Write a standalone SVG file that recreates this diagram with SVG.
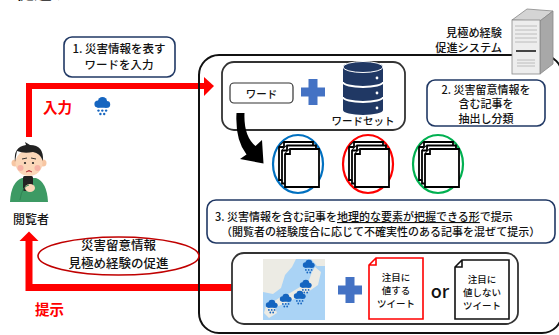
<svg xmlns="http://www.w3.org/2000/svg" width="559" height="335" viewBox="0 0 559 335">
  <style>
    text { font-family: "Noto Sans CJK JP", "Noto Sans", sans-serif; fill: #111; font-weight: 500; }
    .lbl { font-size: 11.5px; text-anchor: middle; }
    .box { fill: #fff; stroke: #203864; stroke-width: 1.6; }
    .panel { fill: #fff; stroke: #333; stroke-width: 1.8; }
    .red { fill: #ff0000; font-weight: bold; font-size: 14.5px; }
    .flow { fill: none; stroke: #ff0000; }
    .page { fill: #fff; stroke: #000; stroke-width: 1.8; stroke-linejoin: miter; }
    .tw { font-size: 9.5px; text-anchor: middle; }
  </style>
  <defs>
    <symbol id="rain" viewBox="0 0 20 20">
      <g fill="#1565c0">
        <circle cx="6" cy="8" r="3.6"/>
        <circle cx="10.5" cy="5.5" r="4.6"/>
        <circle cx="14.8" cy="8.4" r="3.4"/>
        <rect x="5" y="7" width="10.5" height="4.8" rx="1"/>
        <circle cx="6.5" cy="14.6" r="1.2"/>
        <circle cx="10.3" cy="14.6" r="1.2"/>
        <circle cx="14.1" cy="14.6" r="1.2"/>
        <circle cx="8.4" cy="18" r="1.2"/>
        <circle cx="12.2" cy="18" r="1.2"/>
      </g>
    </symbol>
    <g id="page1">
      <path class="page" d="M5,0 H34 V38 H0 V5 Z"/>
      <path class="page" d="M0,5 H5 V0" fill="none"/>
    </g>
    <g id="stack">
      <use href="#page1" transform="translate(-6,-7)"/>
      <use href="#page1" transform="translate(-3,-3.5)"/>
      <use href="#page1"/>
    </g>
    <g id="plus" fill="#4472c4">
      <rect x="-4.5" y="-13" width="9" height="26"/>
      <rect x="-12" y="-4.5" width="24" height="9"/>
    </g>
  </defs>

  <!-- caption running off the top edge -->
  <text x="-2" y="-1" font-size="18" fill="#333">を促進する</text>

  <!-- connectors -->
  <g id="connectors">
    <path class="flow" stroke-width="6" d="M29,137 V86 H205"/>
    <polygon fill="#ff0000" points="204,77 214,86 204,96"/>
    <path class="flow" stroke-width="7" d="M232,287.5 H29 V240"/>
    <polygon fill="#ff0000" points="19.5,241 29,231.5 38.5,241"/>
  </g>

  <!-- system frame -->
  <g id="system">
    <rect x="199" y="55" width="363" height="278" rx="20" fill="none" stroke="#111" stroke-width="2"/>
  </g>

  <!-- step 1 label -->
  <g id="step1">
    <rect class="box" x="64" y="37" width="111" height="40" rx="8"/>
    <text class="lbl" x="119" y="53">1. 災害情報を表す</text>
    <text class="lbl" x="119" y="69">ワードを入力</text>
  </g>

  <g id="input-label">
    <text class="red" x="43" y="113">入力</text>
    <use href="#rain" x="92" y="96" width="20" height="20"/>
  </g>

  <!-- user -->
  <g id="user">
    <path d="M10,202 Q11,182 22,178 L36,178 Q47,182 48,202 Z" fill="#3d9a64"/>
    <circle cx="15" cy="163" r="3.5" fill="#f7c6a3"/>
    <circle cx="43" cy="163" r="3.5" fill="#f7c6a3"/>
    <ellipse cx="29" cy="163" rx="13.5" ry="13" fill="#fbd7b9"/>
    <path d="M15,162 Q13,147 26,145 L25,142 L30,145 Q44,145 43,161 Q40,153 33,152 Q24,154 17,151 Q16,156 15,162 Z" fill="#222"/>
    <circle cx="20.5" cy="168" r="3" fill="#f5a9a0" opacity="0.8"/>
    <circle cx="37.5" cy="168" r="3" fill="#f5a9a0" opacity="0.8"/>
    <circle cx="25" cy="163" r="1.1" fill="#222"/>
    <circle cx="33" cy="163" r="1.1" fill="#222"/>
    <path d="M22,159 L27,158 M31,158 L36,159" stroke="#222" stroke-width="0.9" fill="none"/>
    <path d="M26,172 Q29,169 32,172" stroke="#a33" stroke-width="1" fill="#e88"/>
    <rect x="23" y="176" width="10" height="15" rx="1.5" fill="#222"/>
    <ellipse cx="30" cy="188" rx="5" ry="4" fill="#fbd7b9"/>
    <path d="M20,200 Q22,186 29,185" stroke="#2f8553" stroke-width="1" fill="none"/>
    <text x="31" y="224" font-size="12" text-anchor="middle">閲覧者</text>
  </g>

  <!-- word + word set -->
  <g id="wordset">
    <rect class="panel" x="222" y="62" width="183" height="68" rx="12"/>
    <rect x="230" y="83" width="63" height="20" rx="4" fill="#fff" stroke="#333" stroke-width="1.2"/>
    <text x="261.5" y="97.5" font-size="10.5" text-anchor="middle">ワード</text>
    <use href="#plus" x="313" y="92"/>
    <g>
      <path d="M343,67 V110 A20,5 0 0 0 383,110 V67 Z" fill="#203864"/>
      <ellipse cx="363" cy="67" rx="20" ry="5.5" fill="#203864" stroke="#fff" stroke-width="1"/>
      <path d="M343,82 A20,5 0 0 0 383,82 M343,97 A20,5 0 0 0 383,97" fill="none" stroke="#fff" stroke-width="2"/>
      <circle cx="377" cy="78" r="1.4" fill="#fff"/>
      <circle cx="377" cy="93" r="1.4" fill="#fff"/>
      <circle cx="377" cy="108" r="1.4" fill="#fff"/>
    </g>
    <text x="363" y="125" font-size="10.5" text-anchor="middle">ワードセット</text>
  </g>

  <!-- curved arrow to the classified stacks -->
  <g id="classify-arrow">
    <path d="M236.5,113 L244.5,113 Q243.5,136 255.5,146 L262,140 L263.5,163.5 L240,159 L246.5,154.5 Q235,140 236.5,113 Z" fill="#000"/>
  </g>

  <!-- classified article stacks -->
  <g id="class-blue">
    <ellipse cx="298" cy="164" rx="25" ry="29" fill="#fff" stroke="#0070c0" stroke-width="2.2"/>
    <use href="#stack" x="285" y="149"/>
  </g>
  <g id="class-red">
    <ellipse cx="368" cy="164" rx="25" ry="29" fill="#fff" stroke="#ff0000" stroke-width="2.2"/>
    <use href="#stack" x="355" y="149"/>
  </g>
  <g id="class-green">
    <ellipse cx="438" cy="164" rx="25" ry="29" fill="#fff" stroke="#00b050" stroke-width="2.2"/>
    <use href="#stack" x="425" y="149"/>
  </g>

  <!-- step 2 label -->
  <g id="step2">
    <rect class="box" x="427" y="80" width="118" height="46" rx="8"/>
    <text x="486" y="93.5" font-size="11" text-anchor="middle">2. 災害留意情報を</text>
    <text x="486" y="108" font-size="11" text-anchor="middle">含む記事を</text>
    <text x="486" y="122.5" font-size="11" text-anchor="middle">抽出し分類</text>
  </g>

  <!-- step 3 label -->
  <g id="step3">
    <rect class="box" x="207" y="200" width="348" height="43" rx="9"/>
    <text x="215" y="221" font-size="11">3. 災害情報を含む記事を<tspan text-decoration="underline">地理的な要素が把握できる形</tspan>で提示</text>
    <text x="221" y="236" font-size="11">（閲覧者の経験度合に応じて不確実性のある記事を混ぜて提示）</text>
  </g>

  <!-- presentation panel -->
  <g id="presentation">
    <rect class="panel" x="232" y="253" width="286" height="71" rx="12"/>
    <g id="map">
      <rect x="263" y="259" width="62" height="61" fill="#aad3f5"/>
      <polygon points="263,259 296,259 292,267 285,275 281,288 273,294 263,292" fill="#ecebe4"/>
      <polygon points="311,259 325,259 325,266 317,266" fill="#ecebe4"/>
      <polygon points="315,267 321,272 318,285 308,292 298,297 286,303 276,307 270,304 279,298 290,293 300,287 309,280 312,272" fill="#ecebe4"/>
      <polygon points="266,306 274,305 277,313 269,318 264,313" fill="#ecebe4"/>
      <use href="#rain" x="301" y="259" width="15" height="15"/>
      <use href="#rain" x="298" y="279" width="15" height="15"/>
      <use href="#rain" x="292" y="290" width="15" height="15"/>
      <use href="#rain" x="278" y="293" width="15" height="15"/>
      <use href="#rain" x="264" y="299" width="15" height="15"/>
    </g>
    <use href="#plus" x="350" y="290"/>
    <g id="tweet-notable">
      <path d="M376,258 H423 V319 H369 V265 Z M369,265 H376 V258" fill="#fff" stroke="#ff0000" stroke-width="1.6"/>
      <text class="tw" x="396" y="281">注目に</text>
      <text class="tw" x="396" y="294">値する</text>
      <text class="tw" x="396" y="307">ツイート</text>
    </g>
    <text x="440" y="298" font-family="Liberation Sans, Arial, sans-serif" font-size="18" font-weight="bold" text-anchor="middle" fill="#222">or</text>
    <g id="tweet-plain">
      <path d="M462,260 H509 V319 H455 V267 Z M455,267 H462 V260" fill="#fff" stroke="#111" stroke-width="1.6"/>
      <text class="tw" x="482" y="283">注目に</text>
      <text class="tw" x="482" y="296">値しない</text>
      <text class="tw" x="482" y="309">ツイート</text>
    </g>
  </g>

  <g id="output-label">
    <text class="red" x="35" y="315">提示</text>
  </g>

  <!-- outcome -->
  <g id="outcome">
    <ellipse cx="118.5" cy="256" rx="80.5" ry="19" fill="#fff" stroke="#c00000" stroke-width="1.6"/>
    <text x="118.5" y="249.5" font-size="12.5" text-anchor="middle">災害留意情報</text>
    <text x="118.5" y="267.5" font-size="12.5" text-anchor="middle">見極め経験の促進</text>
  </g>

  <!-- server -->
  <g id="server">
    <polygon points="512,20 527,9 553,11 540,21" fill="#d4d4d4" stroke="#888" stroke-width="0.8"/>
    <polygon points="540,21 553,11 553,64 540,74" fill="#a8a8a8" stroke="#888" stroke-width="0.8"/>
    <rect x="512" y="20" width="28" height="54" fill="#ededed" stroke="#888" stroke-width="0.8"/>
    <g stroke="#b0b0b0" stroke-width="0.8">
      <line x1="515" y1="26" x2="537" y2="26"/>
      <line x1="515" y1="30" x2="537" y2="30"/>
      <line x1="515" y1="34" x2="537" y2="34"/>
      <line x1="515" y1="38" x2="537" y2="38"/>
      <line x1="515" y1="42" x2="537" y2="42"/>
      <line x1="517" y1="60" x2="535" y2="60"/>
      <line x1="517" y1="63" x2="535" y2="63"/>
      <line x1="517" y1="66" x2="535" y2="66"/>
    </g>
    <rect x="516" y="50" width="20" height="2" fill="#444"/>
    <text x="502" y="37" font-size="11.2" text-anchor="end">見極め経験</text>
    <text x="502" y="52" font-size="11.2" text-anchor="end">促進システム</text>
  </g>
</svg>
